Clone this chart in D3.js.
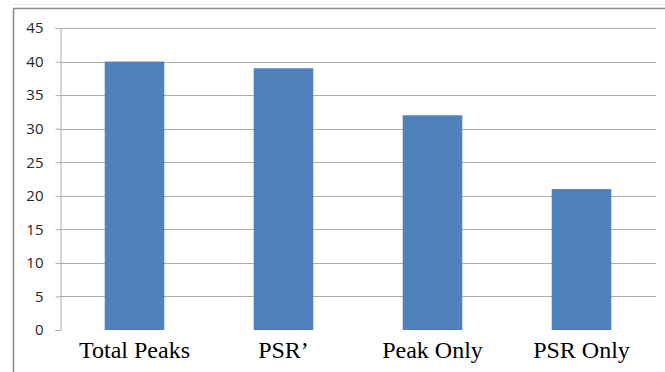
<!DOCTYPE html>
<html>
<head>
<meta charset="utf-8">
<script src="https://cdn.jsdelivr.net/npm/d3@7"></script>
<style>
  html, body { margin: 0; padding: 0; background: #fff; }
  svg { display: block; }
</style>
</head>
<body>
<svg id="chart" width="665" height="372"></svg>
<script>
// Peak counts per category
const categories = ["Total Peaks", "PSR\u2019", "Peak Only", "PSR Only"];
const counts = [40, 39, 32, 21];
const yTicks = [0, 5, 10, 15, 20, 25, 30, 35, 40, 45];

const svg = d3.select("#chart");
const W = 665, H = 372;
const m = { left: 60, right: 9, top: 28, bottom: 42 };

// chart frame (left and top edges of the box)
svg.append("line").attr("x1", 13.5).attr("x2", 13.5).attr("y1", 8.5).attr("y2", H)
  .attr("stroke", "#8a8a8a").attr("stroke-width", 1.5);
svg.append("line").attr("x1", 13).attr("x2", W).attr("y1", 8.5).attr("y2", 8.5)
  .attr("stroke", "#8a8a8a").attr("stroke-width", 1.5);
svg.append("line").attr("x1", 13).attr("x2", W).attr("y1", 4.5).attr("y2", 4.5)
  .attr("stroke", "#ececec").attr("stroke-width", 1);

const x = d3.scaleBand()
  .domain(categories)
  .range([m.left, W - m.right])
  .paddingInner(0.6)
  .paddingOuter(0.3);

const y = d3.scaleLinear()
  .domain([0, 45])
  .range([H - m.bottom, m.top]);

// horizontal gridlines
svg.append("g")
  .selectAll("line")
  .data(yTicks.filter(d => d > 0))
  .join("line")
  .attr("x1", m.left).attr("x2", W - m.right)
  .attr("y1", d => Math.round(y(d)) + 0.5).attr("y2", d => Math.round(y(d)) + 0.5)
  .attr("stroke", "#acacac").attr("stroke-width", 1);

// y axis
const yAxis = svg.append("g")
  .attr("transform", `translate(${m.left + 0.5},0)`)
  .call(d3.axisLeft(y).tickValues(yTicks).tickSize(5).tickPadding(12).tickFormat(d3.format("d")));
yAxis.select(".domain").attr("stroke", "#acacac");
yAxis.selectAll(".tick line").attr("stroke", "#acacac");
yAxis.selectAll(".tick text")
  .attr("fill", "#262626")
  .style("font-family", "'Open Sans', 'DejaVu Sans', sans-serif")
  .style("font-size", "15px");

// bars
svg.append("g")
  .selectAll("rect")
  .data(categories.map((c, i) => ({ c, v: counts[i] })))
  .join("rect")
  .attr("x", d => x(d.c))
  .attr("width", x.bandwidth())
  .attr("y", d => y(d.v))
  .attr("height", d => y(0) - y(d.v))
  .attr("fill", "#4f81bd");

// category labels
svg.append("g")
  .selectAll("text")
  .data(categories)
  .join("text")
  .attr("x", d => x(d) + x.bandwidth() / 2)
  .attr("y", 358)
  .attr("text-anchor", "middle")
  .attr("fill", "#000")
  .style("font-family", "'Liberation Serif', 'DejaVu Serif', serif")
  .style("font-size", "24px")
  .text(d => d);
</script>
</body>
</html>
